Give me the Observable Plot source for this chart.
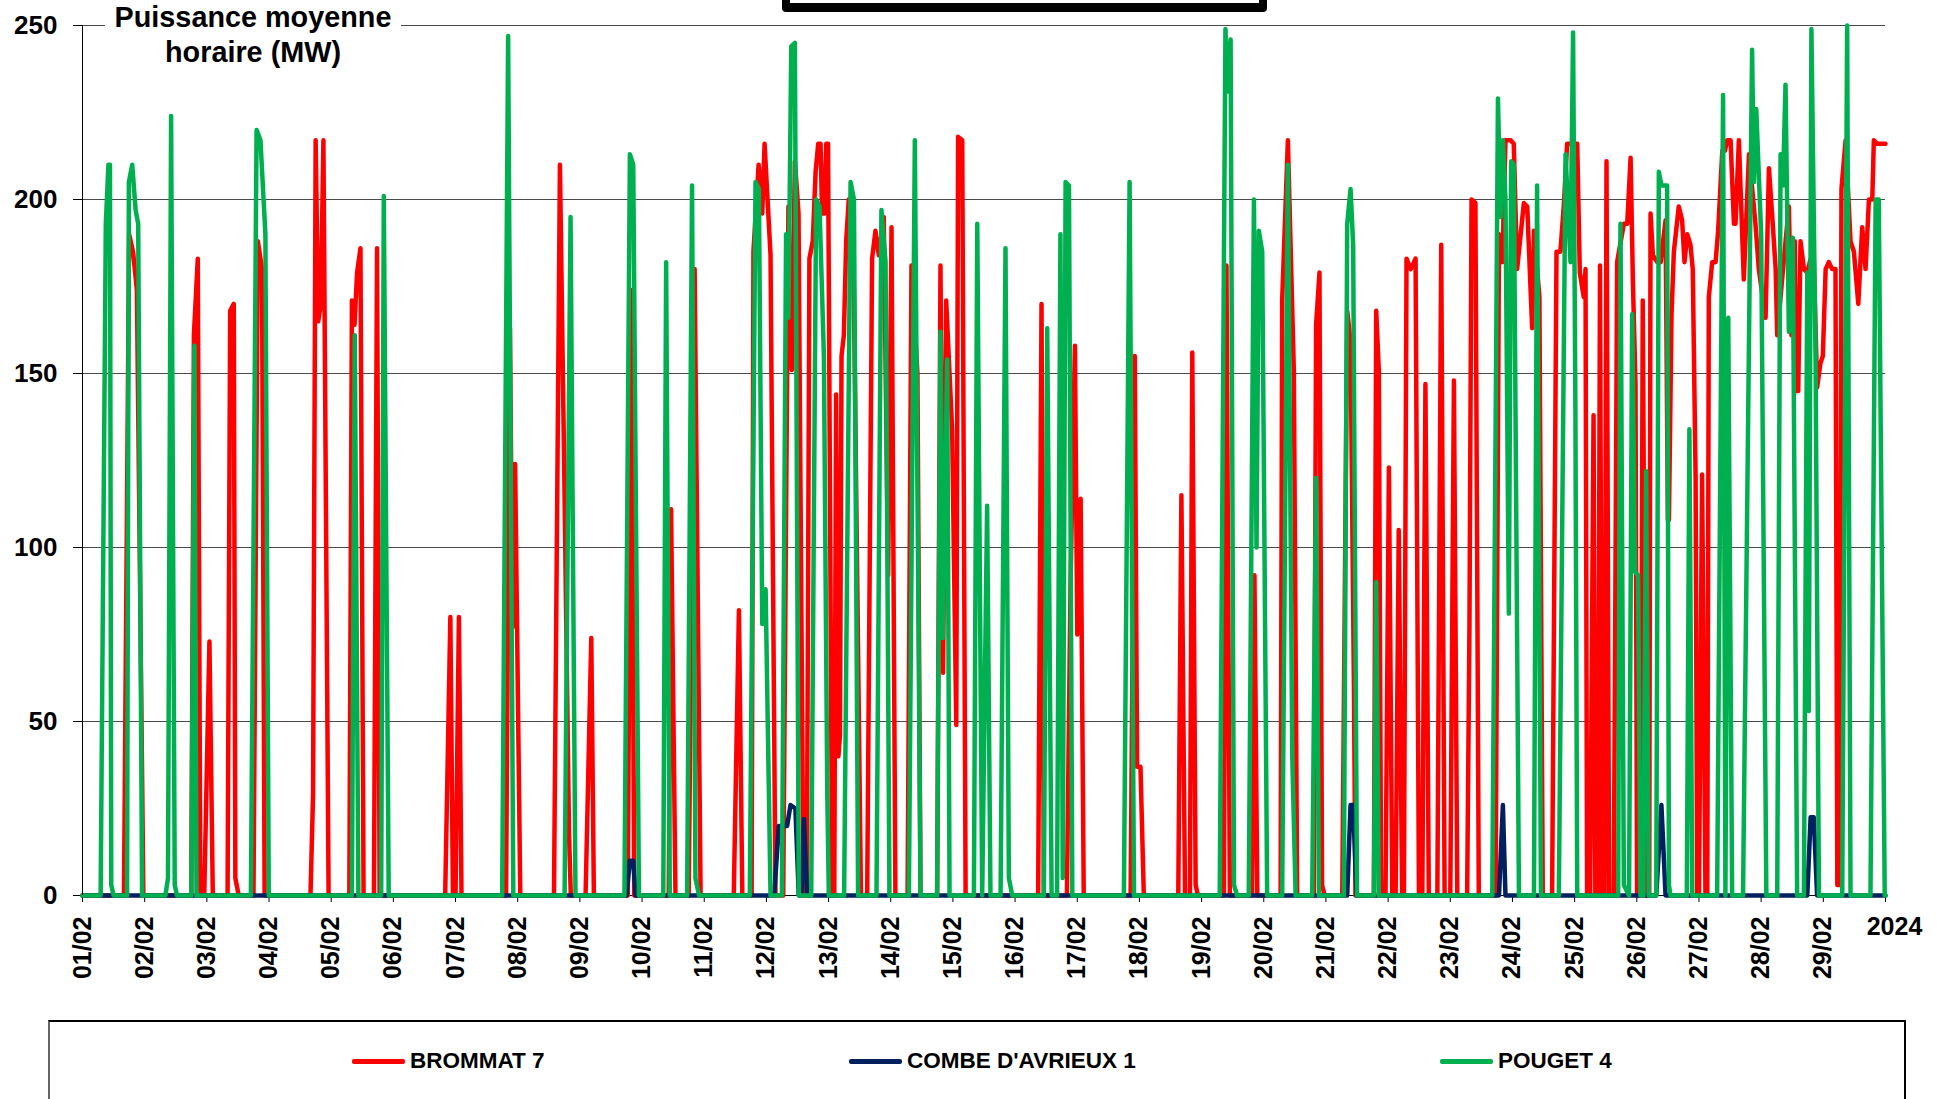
<!DOCTYPE html>
<html>
<head>
<meta charset="utf-8">
<script src="https://cdn.jsdelivr.net/npm/d3@7"></script>
<script src="https://cdn.jsdelivr.net/npm/@observablehq/plot@0.6"></script>
<style>
  body { margin: 0; background: #fff; font-family: "Liberation Sans", Arial, sans-serif; }
  #wrap { position: relative; width: 1942px; height: 1099px; overflow: hidden; background: #fff; }
  #chart { position: absolute; left: 0; top: 0; }
  #chart svg text { font-weight: bold; fill: #000; }
  #title { position: absolute; left: 105px; top: 0; width: 296px; height: 72px; background: #fff;
           text-align: center; font-weight: bold; font-size: 28.8px; line-height: 35px; color: #000; }
  #topbar { position: absolute; left: 782px; top: -14px; width: 485px; height: 26px; box-sizing: border-box;
            border: 8px solid #000; border-bottom-width: 9px; background: #fff; border-radius: 4px; }
  #legend { position: absolute; left: 48px; top: 1020px; width: 1858px; height: 140px; box-sizing: border-box;
            border: 2px solid #000; border-left-color: #666; }
  .item { position: absolute; top: 1048px; height: 26px; display: flex; align-items: center;
          font-weight: bold; font-size: 22.5px; color: #000; white-space: nowrap; }
  .sw { width: 53px; height: 5px; margin-right: 5px; border-radius: 2px; }
</style>
</head>
<body>
<div id="wrap">
  <div id="chart"></div>
  <div id="topbar"></div>
  <div id="title"></div>
  <div id="legend"></div>
</div>
<script>
// ---- labels ----
const titleText = ["Puissance moyenne", "horaire (MW)"];
const dayLabels = ["01/02","02/02","03/02","04/02","05/02","06/02","07/02","08/02","09/02","10/02",
  "11/02","12/02","13/02","14/02","15/02","16/02","17/02","18/02","19/02","20/02",
  "21/02","22/02","23/02","24/02","25/02","26/02","27/02","28/02","29/02"];
const endLabel = "2024";
const yTicks = [0, 50, 100, 150, 200, 250];
const seriesNames = ["BROMMAT 7", "COMBE D'AVRIEUX 1", "POUGET 4"];
const seriesColors = ["#FF0000", "#002060", "#00B050"];

// ---- values: [hour since 01/02 00:00, MW] ----
const brommat7 = [
  [0,0],[16,0],[18,190],[19.5,185],[21,174],[23.5,0],
  [42,0],[43,161],[44.5,183],[45.5,0],
  [47,0],[49,73],[50.3,0],
  [56,0],[57,168],[58.4,170],[59,5],[60.3,0],
  [66,0],[67.7,188],[69.3,180],[70.3,0],
  [88,0],[89,29],[90,217],[91,165],[92,170],[93,217],[95,0],
  [103,0],[104,171],[105,164],[106,179],[107.3,186],[108.5,0],
  [112.5,0],[113.7,186],[114.7,0],
  [140,0],[142,80],[143,0],[144,0],[145.3,80],[146.3,0],
  [163.5,0],[165,163],[166,77],[167,124],[169,0],
  [182,0],[184.3,210],[186,120],[187.8,18],[188.5,0],
  [194.2,0],[196.4,74],[197.4,0],
  [210.5,0],[211.8,174],[213,0],
  [226.3,0],[227.2,111],[228.9,0],
  [234,0],[236.3,180],[238.6,0],
  [251.4,0],[253.4,82],[254.7,0],
  [258.3,0],[259,185],[261,210],[262.4,196],[263.3,216],[265.6,184],[267.5,0],
  [270.5,0],[272.5,198],[273.8,151],[275,211],[276.4,196],[278.3,0],
  [279.6,0],[280.6,183],[281.9,188],[283,208],[284,216],[284.9,216],[285.5,196],[286.4,196],[287.1,216],[287.8,216],[289.4,0],
  [290.2,0],[290.9,144],[291.8,40],[292.4,46],[293,155],[293.9,161],[294.8,188],[295.8,200],[297.5,190],[300.5,0],
  [302.9,0],[304.8,183],[306.1,191],[307.4,184],[309.3,195],[311,92],[312.3,192],[313.8,0],
  [318.5,0],[320,181],[322.3,150],[323.5,0],
  [329.9,0],[331.2,181],[332.2,64],[333.4,171],[334.7,150],[335.7,134],[337.3,49],[338,218],[339.6,217],[340.9,0],
  [368.9,0],[370.2,170],[371.1,0],
  [380,0],[381.4,89],[383.1,158],[384,75],[385.3,114],[386.5,0],
  [404.6,0],[406.2,155],[407.1,37],[408.4,37],[409.7,0],
  [423,0],[424.2,115],[425.6,0],
  [427.5,0],[428.4,156],[429.7,3],[430.6,0],
  [440.6,0],[441.6,181],[442.9,0],
  [451.5,0],[452.4,92],[453.5,0],
  [462.5,0],[463.1,171],[465.3,217],[467.6,151],[468.9,0],
  [475.3,0],[476.2,164],[477.5,179],[478.5,3],[479.5,0],
  [486.3,0],[488.2,168],[489.5,159],[490.8,60],[491.4,0],
  [498.5,0],[499.4,168],[500.4,151],[501.3,2],[502.4,0],
  [503,0],[504.3,123],[505.6,0],
  [506.9,0],[508.1,105],[509.4,0],
  [510.1,0],[511.1,183],[512.7,180],[514.6,183],[515.9,0],
  [517.2,0],[518.4,147],[519.7,0],
  [523,0],[524.5,187],[525.8,0],
  [528,0],[529.4,148],[530.7,0],
  [534.5,0],[535.4,78],[536.2,200],[537.7,199],[539,0],
  [545.5,0],[546.8,190],[548.1,182],[549.3,217],[551.3,217],[552.5,216],[553.8,180],[556.4,199],[557.7,198],[559.6,163],[560.3,191],[561.3,182],[562.4,172],[563.7,0],
  [567.3,0],[569,185],[570.5,185],[571.8,198],[573.1,216],[574.4,216],[576.3,216],[577,216],[578,179],[579.5,172],[580.2,180],[580.8,0],
  [582,0],[583.3,138],[584,0],[585,0],[585.8,181],[586.6,0],[587.5,0],[588.3,211],[589.3,0],
  [591.1,0],[592.4,182],[595,193],[596.3,193],[597.6,212],[598.5,176],[599.5,147],[600.1,0],
  [601.5,0],[602.3,171],[603.6,0],
  [604.8,0],[605.3,196],[606.2,184],[607.9,182],[609.2,182],[611.1,194],[612,108],[612.4,108],[613.4,167],[614.3,185],[616.2,198],[617.5,194],[618.4,182],[619.5,190],[620.7,187],[621.6,180],[622.7,120],[623.3,0],
  [624,0],[625.2,121],[626.5,0],
  [627.2,0],[627.8,172],[629.1,182],[630.4,182],[631.4,191],[633,214],[634,214],[634.9,217],[636.2,217],[637.5,193],[638.1,193],[639.4,217],[641.3,177],[643.3,213],[645.8,193],[647.1,180],[649.7,166],[651,209],[652.3,195],[653.6,180],[654.2,161],[656.8,183],[658.7,198],[659.7,161],[661,188],[661.5,145],[662.3,145],[663.2,188],[664.5,180],[665.8,179],[667.1,183],[668.3,183],[669.6,146],[670.9,153],[671.8,155],[672.9,180],[674.1,182],[675.4,180],[676.7,180],[677.4,3],[678.3,3],
  [679,203],[680.6,217],[682.5,188],[683.8,185],[685.5,170],[687,192],[688.3,180],[689.6,200],[690.9,200],[691.5,217],[692.8,216],[694.7,216],[696,216]
];

const combeDAvrieux1 = [
  [0,0],[210,0],[211.3,10],[212.6,10],[213.5,0],
  [267,0],[268.8,20],[272,20],[273.3,26],[275.2,25],[276.5,0],[277.5,0],[278.5,22],[279.7,0],
  [488.2,0],[489.5,26],[490.5,26],[491.8,0],
  [546.8,0],[548.3,26],[549.3,0],
  [607.5,0],[609.5,26],[611.1,0],
  [665.8,0],[667.1,22.5],[668.3,22.5],[669.6,0],[696,0]
];

const pouget4 = [
  [0,0],[7,0],[9,193],[10,210],[10.6,210],[11.1,3],[12,0],
  [17.2,0],[17.9,205],[19.2,210],[20.5,197],[21.5,193],[23,0],
  [32,0],[33,5],[34.2,224],[35.6,3],[36.5,0],
  [42,0],[43.2,158],[44,0],
  [65,0],[67.2,220],[68.7,217],[70.6,190],[71.9,0],
  [104,0],[105.1,161],[106.5,0],
  [115.3,0],[116.3,201],[118.2,0],
  [162,0],[164.3,247],[166.3,0],
  [186.1,0],[188.4,195],[190.3,0],
  [209.2,0],[211.3,213],[212.6,210],[214.8,0],
  [224.2,0],[225.3,182],[226.7,0],
  [233.4,0],[235.3,204],[236.6,5],[238,0],
  [257.6,0],[259.8,205],[261.1,203],[262.4,78],[263.7,88],[265.6,0],
  [270,0],[271.6,190],[272.5,166],[273.6,244],[275,245],[276.5,0],
  [281.3,0],[283.2,200],[284.5,198],[286.2,155],[287.5,29],[288.1,0],
  [294,0],[296.5,205],[297.8,200],[299.4,0],
  [306.5,0],[308.4,197],[310,182],[311.5,0],
  [319,0],[321.3,217],[323.5,0],
  [329.9,0],[331.2,162],[332.1,74],[333.8,154],[334.7,0],
  [344.1,0],[345.4,193],[347.3,0],[349.2,112],[350.5,0],
  [354.4,0],[356.3,186],[357.6,5],[358.9,0],
  [371.1,0],[372.4,163],[374.1,0],
  [376.2,0],[377.5,190],[378.4,5],[379.5,205],[380.8,204],[382.1,0],
  [402,0],[404.2,205],[405.9,0],
  [439,0],[441.2,249],[442.1,231],[443.2,246],[444.5,3],[445.7,0],
  [450.2,0],[452.2,200],[453.2,100],[454.1,191],[455.4,185],[457.3,0],
  [463.1,0],[465.3,210],[467,40],[468.3,0],
  [474.7,0],[476.2,120],[477.3,0],
  [486.9,0],[488.2,193],[489.5,203],[490.5,187],[492,0],
  [498.5,0],[499.4,90],[500.4,0],
  [544.2,0],[546.4,229],[547.4,195],[548.3,217],[549.3,200],[550.6,81],[551.5,211],[552.5,210],[554.5,0],
  [560.3,0],[561.5,204],[563,0],
  [569.9,0],[572.5,213],[574.4,182],[575.4,248],[576.3,139],[577,0],
  [592.8,0],[593.7,193],[595,3],[597,0],[598.2,167],[599.3,93],[600.5,92],[601.4,0],
  [602.5,0],[603.6,122],[604.6,0],
  [607.5,0],[608.5,208],[609.5,204],[611.7,204],[612.4,3],[613,0],
  [619.3,0],[620.3,134],[621.4,0],
  [631,0],[633.3,230],[634.2,0],[635.3,166],[636.8,0],
  [641,0],[644.5,243],[645.2,205],[646.1,226],[648,190],[650,0],
  [654.2,0],[655.5,213],[656.4,204],[657.4,233],[658.7,162],[660.2,189],[661.9,0],
  [664.5,0],[665.8,179],[666.4,53],[667.4,249],[669,155],[670.3,0],
  [679.3,0],[681.2,250],[682.5,0],
  [690.2,0],[692.2,200],[693.4,200],[695.7,0],[696,0]
];

// ---- build ----
const seriesPts = [brommat7, combeDAvrieux1, pouget4];
const toRows = pts => pts.map(([h, v]) => ({h, v}));
const dayTicks = dayLabels.map((_, i) => i * 24);
const endTick = dayLabels.length * 24;
const allTicks = [...dayTicks, endTick];
const fontFamily = '"Liberation Sans", Arial, Helvetica, sans-serif';

const lineMarks = seriesPts.map((pts, i) => Plot.line(toRows(pts), {
  x: "h", y: "v", stroke: seriesColors[i], strokeWidth: 4.5,
  strokeLinejoin: "round", strokeLinecap: "round"
}));

const chart = Plot.plot({
  width: 1942, height: 1010,
  marginLeft: 82, marginRight: 57, marginTop: 25, marginBottom: 115,
  style: {fontFamily, background: "transparent", color: "#000", overflow: "visible"},
  x: {type: "linear", domain: [0, endTick]},
  y: {domain: [0, 250]},
  marks: [
    Plot.gridY(yTicks, {stroke: "#4a4a4a", strokeOpacity: 1, strokeWidth: 1}),
    Plot.axisY(yTicks, {tickSize: 9, tickPadding: 16, fontSize: 26, fontWeight: "bold", label: null, stroke: "#000"}),
    Plot.ruleY([0], {stroke: "#000", strokeWidth: 1}),
    Plot.axisX(allTicks, {tickSize: 7, text: null, label: null, stroke: "#000"}),
    Plot.axisX(dayTicks, {tickSize: 0, tickPadding: 21, tickRotate: -90, fontSize: 25, fontWeight: "bold",
      tickFormat: d => dayLabels[Math.round(d / 24)], label: null}),
    Plot.text([endTick], {x: d => d, frameAnchor: "bottom", lineAnchor: "top", dy: 22, dx: 9,
      text: () => endLabel, fontSize: 25, fontWeight: "bold", fill: "#000"}),
    ...lineMarks,
    Plot.ruleX([0], {stroke: "#000", strokeWidth: 1})
  ]
});
document.getElementById("chart").appendChild(chart);

// title text from array
document.getElementById("title").innerHTML = titleText.join("<br>");

// legend
const legendX = [352, 849, 1440];
const wrap = document.getElementById("wrap");
seriesNames.forEach((name, i) => {
  const it = document.createElement("div");
  it.className = "item";
  it.style.left = legendX[i] + "px";
  const sw = document.createElement("div");
  sw.className = "sw";
  sw.style.background = seriesColors[i];
  const tx = document.createElement("span");
  tx.textContent = name;
  it.appendChild(sw); it.appendChild(tx);
  wrap.appendChild(it);
});
</script>
</body>
</html>
